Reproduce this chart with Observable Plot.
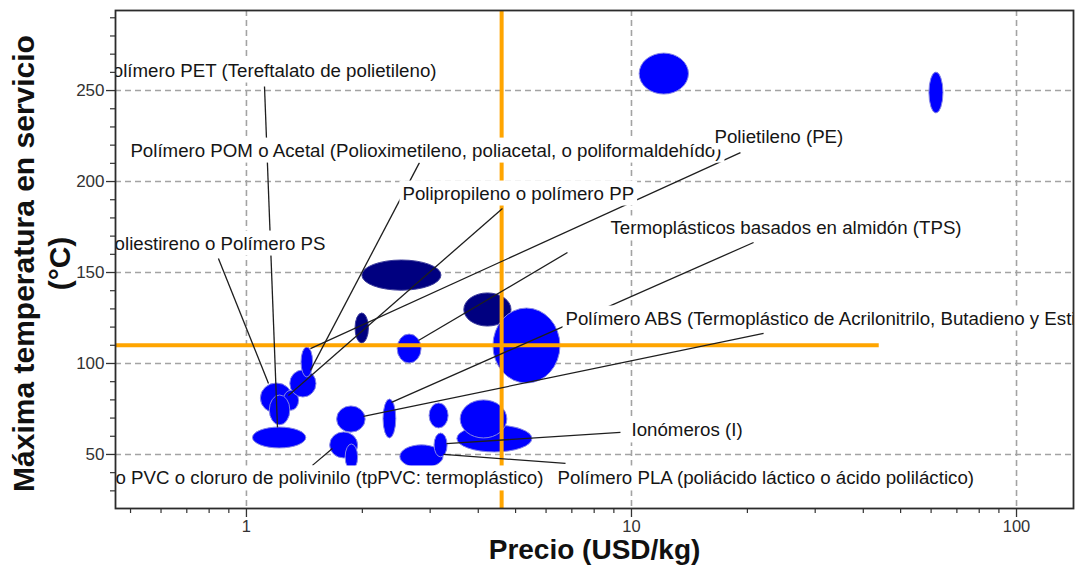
<!DOCTYPE html>
<html>
<head>
<meta charset="utf-8">
<script src="https://cdn.jsdelivr.net/npm/d3@7"></script>
<script src="https://cdn.jsdelivr.net/npm/@observablehq/plot@0.6"></script>
<style>
  html, body { margin: 0; padding: 0; background: #fff; }
  #chart svg { display: block; }
</style>
</head>
<body>
<div id="chart"></div>
<script>
// Material families: price range (USD/kg) and maximum service temperature range (°C)
const precioMin = [2.00, 1.92, 3.68, 4.38, 2.47, 10.5, 59.4, 1.09, 1.25, 1.30, 1.39, 1.04, 1.15, 1.72, 2.27, 2.99, 3.53, 3.60, 2.51, 3.08, 1.65, 1.81];
const precioMax = [3.21, 2.08, 4.88, 6.54, 2.85, 14.1, 64.6, 1.32, 1.37, 1.52, 1.49, 1.43, 1.30, 2.04, 2.45, 3.35, 5.53, 4.76, 3.25, 3.33, 1.95, 1.95];
const tempMin   = [140.0, 111.0, 120.3, 89.0, 100.0, 247.8, 237.4, 72.5, 74.0, 81.3, 92.3, 53.3, 66.0, 62.0, 58.8, 64.3, 51.1, 58.8, 42.3, 48.4, 47.8, 41.2];
const tempMax   = [156.6, 127.5, 138.5, 130.2, 115.9, 270.3, 259.9, 89.0, 85.0, 96.2, 108.8, 64.8, 82.4, 76.4, 80.2, 78.0, 65.9, 79.7, 55.0, 61.5, 62.1, 55.5];
const tono      = ["oscuro", "oscuro", "oscuro", "claro", "claro", "claro", "claro", "claro", "claro", "claro", "claro",
                   "claro", "claro", "claro", "claro", "claro", "claro", "claro", "claro", "claro", "claro", "claro"];

// Annotations: text, anchor point and alignment
const etiquetas = [
  "Polímero PET (Tereftalato de polietileno)",
  "Poliestireno o Polímero PS",
  "Polímero PVC o cloruro de polivinilo (tpPVC: termoplástico)",
  "Polímero POM o Acetal (Polioximetileno, poliacetal, o poliformaldehído)",
  "Polipropileno o polímero PP",
  "Termoplásticos basados en almidón (TPS)",
  "Polietileno (PE)",
  "Polímero ABS (Termoplástico de Acrilonitrilo, Butadieno y Estireno)",
  "Ionómeros (I)",
  "Polímero PLA (poliácido láctico o ácido poliláctico)"
];
const etiquetaPrecio = [3.116, 1.604, 5.907, 0.4996, 2.542, 8.821, 16.43, 6.74, 10.0, 6.424];
const etiquetaTemp   = [261.0, 165.9, 36.8, 217.0, 193.4, 174.2, 224.2, 124.7, 63.2, 36.8];
const etiquetaAncla  = ["end", "end", "end", "start", "start", "start", "start", "start", "start", "start"];

// Leader lines from each annotation to its material region
const guiaPrecio1 = [1.114, 2.814, 19.19, 4.623, 0.8457, 6.82, 20.75, 22.03, 9.363, 6.74, 1.484];
const guiaTemp1   = [252.2, 210.4, 215.9, 185.2, 157.7, 161.0, 166.5, 116.5, 62.1, 45.1, 44.0];
const guiaPrecio2 = [1.204, 1.466, 1.466, 1.285, 1.141, 2.797, 2.381, 2.013, 3.307, 3.249, 1.672];
const guiaTemp2   = [64.8, 96.2, 108.2, 82.4, 89.0, 112.6, 78.6, 70.9, 56.0, 50.0, 53.3];

// Reference lines
const precioRef = 4.6;
const tempRef = 110;
const tempRefHasta = 44;

// Axes
const xDominio = [0.457, 140.6];
const yDominio = [20.3, 294];
const xTicks = [1, 10, 100];
const yTicks = [50, 100, 150, 200, 250];
const xMenores = [0.1, 1, 10].flatMap(b => d3.range(2, 10).map(k => +(k * b).toFixed(3)))
  .filter(v => v > xDominio[0] && v < xDominio[1]);
const yMenores = d3.range(30, 300, 10).filter(v => v % 50 !== 0);

const AZUL = "#0000ff";
const MARINO = "#000080";
const NARANJA = "#ffa500";

const elipses = precioMin.map((p, i) => ({
  p1: p, p2: precioMax[i], t1: tempMin[i], t2: tempMax[i], tono: tono[i]
}));
const rotulos = etiquetas.map((t, i) => ({
  texto: t, precio: etiquetaPrecio[i], temp: etiquetaTemp[i], ancla: etiquetaAncla[i]
}));
const guias = guiaPrecio1.map((p, i) => ({
  p1: p, t1: guiaTemp1[i], p2: guiaPrecio2[i], t2: guiaTemp2[i]
}));

const rotuloComun = {
  x: "precio", y: "temp", text: "texto",
  fontSize: 18.7, fill: "#151515", clip: true
};

const grafico = Plot.plot({
  width: 1077,
  height: 571,
  marginLeft: 115,
  marginRight: 4,
  marginTop: 10,
  marginBottom: 63,
  style: { fontFamily: "'Liberation Sans', Arial, sans-serif", background: "#fff", overflow: "visible" },
  x: { type: "log", domain: xDominio },
  y: { domain: yDominio },
  marks: [
    // dashed grid
    Plot.ruleX(xTicks, { stroke: "#a3a3a3", strokeWidth: 1.6, strokeDasharray: "6,4" }),
    Plot.ruleY(yTicks, { stroke: "#a3a3a3", strokeWidth: 1.6, strokeDasharray: "6,4" }),

    // material regions drawn as ellipses spanning each range
    Plot.rect(elipses, {
      filter: d => d.tono === "oscuro",
      x1: "p1", x2: "p2", y1: "t1", y2: "t2",
      fill: MARINO, stroke: "#3c3c9c", strokeWidth: 1, rx: 1000, ry: 1000, inset: 0
    }),
    Plot.rect(elipses, {
      filter: d => d.tono === "claro",
      x1: "p1", x2: "p2", y1: "t1", y2: "t2",
      fill: AZUL, stroke: "#8686e6", strokeWidth: 1, rx: 1000, ry: 1000, inset: 0
    }),

    // reference lines
    Plot.ruleX([precioRef], { stroke: NARANJA, strokeWidth: 4 }),
    Plot.ruleY([tempRef], { x1: () => xDominio[0], x2: () => tempRefHasta, stroke: NARANJA, strokeWidth: 4 }),

    // leader lines
    Plot.link(guias, { x1: "p1", y1: "t1", x2: "p2", y2: "t2", stroke: "#1e1e1e", strokeWidth: 1.3 }),

    // annotations
    Plot.text(rotulos, { ...rotuloComun, filter: d => d.ancla === "end", textAnchor: "end" }),
    Plot.text(rotulos, { ...rotuloComun, filter: d => d.ancla === "start", textAnchor: "start" }),

    // axis titles
    Plot.text(["Máxima temperatura en servicio\n(°C)"], {
      text: d => d, frameAnchor: "left", textAnchor: "middle", rotate: -90, dx: -75, dy: 4,
      fontSize: 30, fontWeight: "bold", lineHeight: 1.2, fill: "#111"
    }),
    Plot.text(["Precio (USD/kg)"], {
      text: d => d, frameAnchor: "bottom", textAnchor: "middle", dy: 50,
      fontSize: 28, fontWeight: "bold", fill: "#111"
    }),

    // axes: minor and major ticks
    Plot.axisX(xMenores, { tickSize: 5, tickFormat: () => "", label: null, stroke: "#333", strokeWidth: 1.2 }),
    Plot.axisX(xTicks, { tickSize: 9, tickPadding: 3, tickFormat: d => String(d), label: null, fontSize: 16.5, color: "#333", strokeWidth: 1.3 }),
    Plot.axisY(yMenores, { tickSize: 5, tickFormat: () => "", label: null, stroke: "#333", strokeWidth: 1.2 }),
    Plot.axisY(yTicks, { tickSize: 9, tickPadding: 2, tickFormat: d => String(d), label: null, fontSize: 17, color: "#333", strokeWidth: 1.3 }),

    Plot.frame({ stroke: "#2b2b2b", strokeWidth: 1.8 })
  ]
});

document.getElementById("chart").append(grafico);

// White boxes behind each annotation, so they mask grid, lines and regions beneath
const NS = "http://www.w3.org/2000/svg";
const conjunto = new Set(etiquetas);
grafico.querySelectorAll("text").forEach(t => {
  if (!conjunto.has(t.textContent)) return;
  const b = t.getBBox();
  const r = document.createElementNS(NS, "rect");
  r.setAttribute("x", b.x - 3);
  r.setAttribute("y", b.y - 2);
  r.setAttribute("width", b.width + 6);
  r.setAttribute("height", b.height + 4);
  r.setAttribute("fill", "#fff");
  r.setAttribute("stroke", "none");
  const tr = t.getAttribute("transform");
  if (tr) r.setAttribute("transform", tr);
  t.parentNode.insertBefore(r, t);
});
</script>
</body>
</html>
